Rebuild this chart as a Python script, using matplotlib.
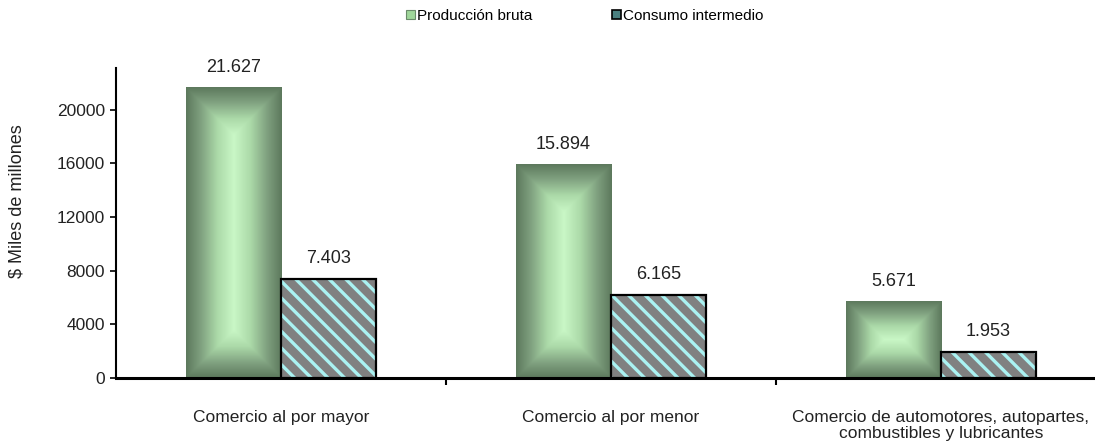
import numpy as np
import matplotlib
matplotlib.use("Agg")
import matplotlib.pyplot as plt
from matplotlib.colors import LinearSegmentedColormap
from matplotlib.patches import Patch

plt.rcParams['font.family'] = ['Liberation Sans', 'DejaVu Sans']
plt.rcParams['hatch.linewidth'] = 2.4

categories = ["Comercio al por mayor", "Comercio al por menor",
              "Comercio de automotores, autopartes,\ncombustibles y lubricantes"]
produccion_bruta = [21627, 15894, 5671]
consumo_intermedio = [7403, 6165, 1953]
labels_pb = ["21.627", "15.894", "5.671"]
labels_ci = ["7.403", "6.165", "1.953"]
yticks = [0, 4000, 8000, 12000, 16000, 20000]
series_names = ["Producción bruta", "Consumo intermedio"]

W, H = 1095, 447
fig = plt.figure(figsize=(W / 100, H / 100), dpi=100)
left, right, bottom, top = 116, 1095, 378, 68
ax = fig.add_axes([left / W, 1 - bottom / H, (right - left) / W, (bottom - top) / H])

x = np.arange(len(categories))
w = 0.288
bars_pb = ax.bar(x - w, produccion_bruta, width=w, align='edge',
                 facecolor='none', edgecolor='none', zorder=2)
# hatched fill (stripes) then outline
ax.bar(x, consumo_intermedio, width=w, align='edge',
       facecolor='#808080', edgecolor='#aaf2f2', linewidth=0,
       hatch='\\\\', zorder=3)
ax.bar(x, consumo_intermedio, width=w, align='edge',
       facecolor='none', edgecolor='black', linewidth=1.6, zorder=4)

cmap = LinearSegmentedColormap.from_list(
    'g', [(0.0, '#c9f7c6'), (0.35, '#abd9a8'), (0.7, '#7fa07f'), (1.0, '#5d795d')])
for p in bars_pb:
    x0, y0 = p.get_x(), p.get_y()
    bw, bh = p.get_width(), p.get_height()
    ny, nx = 300, 120
    yy, xx = np.mgrid[-1:1:ny * 1j, -1:1:nx * 1j]
    px_w = bw * 330
    px_h = bh * 268 / 20000
    dx = np.abs(xx) * px_w / 2
    dy = np.abs(yy) * px_h / 2
    m = min(px_w, px_h) / 2
    t = np.maximum(np.clip((dx - (px_w / 2 - m)) / m, 0, 1),
                   np.clip((dy - (px_h / 2 - m)) / m, 0, 1))
    ax.imshow(t, cmap=cmap, vmin=0, vmax=1, extent=(x0, x0 + bw, y0, y0 + bh),
              aspect='auto', zorder=2, interpolation='bilinear')

for i in range(len(categories)):
    ax.text(x[i] - w / 2, produccion_bruta[i] + 900, labels_pb[i],
            ha='center', va='bottom', fontsize=13, color='#222222')
    ax.text(x[i] + w / 2, consumo_intermedio[i] + 900, labels_ci[i],
            ha='center', va='bottom', fontsize=13, color='#222222')

ax.set_xlim(-0.5, -0.5 + (right - left) / 330)
ax.set_ylim(0, 23100)
ax.set_yticks(yticks)
ax.set_yticklabels([str(v) for v in yticks], fontsize=12.5, color='#222222')
ax.set_xticks(x)
ax.set_xticklabels(categories, fontsize=12.5, color='#222222', linespacing=1.12)
ax.tick_params(axis='x', length=0, pad=23)
ax.set_xticks([0.5, 1.5], minor=True)
ax.tick_params(axis='x', which='minor', length=5, width=1.5, direction='out')
ax.tick_params(axis='y', length=4, width=1.2, direction='out', pad=4)
for s in ['top', 'right']:
    ax.spines[s].set_visible(False)
ax.spines['left'].set_linewidth(1.5)
ax.spines['bottom'].set_linewidth(2.2)
ax.set_ylabel("$ Miles de millones", fontsize=13, color='#222222')
ax.yaxis.set_label_coords(-0.092, 0.57)

handles = [Patch(facecolor='#9fd69a', edgecolor='#6a8a6a', linewidth=0.8),
           Patch(facecolor='#4a8080', edgecolor='black', linewidth=1.2)]
fig.legend(handles, series_names, loc='center', bbox_to_anchor=(0.534, 1 - 16 / H),
           ncol=2, frameon=False, fontsize=11, handlelength=0.6, handleheight=0.6,
           handletextpad=0.15, columnspacing=5.2)

fig.savefig('out.png', dpi=100)
